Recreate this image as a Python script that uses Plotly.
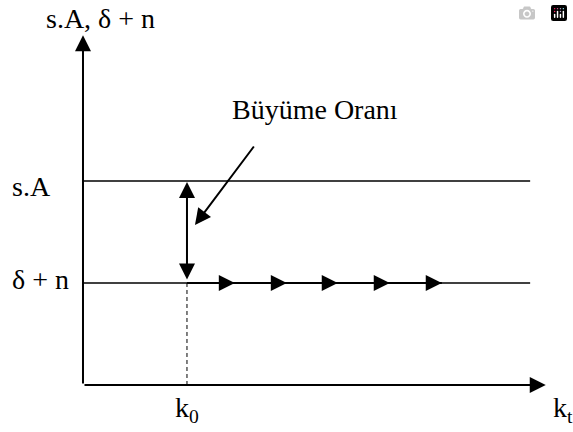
import plotly.graph_objects as go

# Conceptual data (model units)
sA_level = 2.0          # s.A
dn_level = 1.0          # delta + n
k0 = 1.0
line_end = 4.3
x_axis_end = 4.45
y_axis_end = 3.43
flow_arrow_tips = [1.46, 1.96, 2.45, 2.95, 3.45]
pointer_tail = (1.654, 2.353)
pointer_tip = (1.077, 1.569)

axis_labels = {"y": "s.A, δ + n", "x": "k<sub>t</sub>", "k0": "k<sub>0</sub>"}
level_labels = ["s.A", "δ + n"]
pointer_label = "Büyüme Oranı"

FONT = dict(family="Liberation Serif", size=28, color="black")

fig = go.Figure()

fig.add_trace(go.Scatter(x=[0, line_end], y=[sA_level, sA_level], mode="lines",
                         line=dict(color="black", width=1.5), hoverinfo="skip"))
fig.add_trace(go.Scatter(x=[0, line_end], y=[dn_level, dn_level], mode="lines",
                         line=dict(color="black", width=1.5), hoverinfo="skip"))
fig.add_trace(go.Scatter(x=[k0, flow_arrow_tips[-1]], y=[dn_level, dn_level], mode="lines",
                         line=dict(color="black", width=2.2), hoverinfo="skip"))
fig.add_trace(go.Scatter(x=[k0, k0], y=[0, dn_level], mode="lines",
                         line=dict(color="black", width=1, dash="4px,3px"), hoverinfo="skip"))

ann = []
def arrow(x, y, ax, ay, side="end", size=1.6, width=2):
    ann.append(dict(x=x, y=y, ax=ax, ay=ay, xref="x", yref="y", axref="x", ayref="y",
                    showarrow=True, arrowhead=2, arrowside=side, arrowsize=size,
                    arrowwidth=width, arrowcolor="black", text="", standoff=0, startstandoff=0))

arrow(0, y_axis_end, 0, 0)
arrow(x_axis_end, 0, 0, 0)
arrow(k0, sA_level - 0.01, k0, dn_level + 0.02, side="end+start")
arrow(pointer_tip[0], pointer_tip[1], pointer_tail[0], pointer_tail[1])
for t in flow_arrow_tips:
    arrow(t, dn_level, t - 0.12, dn_level)

def label(x, y, text, xanchor="center"):
    ann.append(dict(x=x, y=y, xref="x", yref="y", text=text, showarrow=False,
                    xanchor=xanchor, yanchor="middle", font=FONT))

label(0.173, 3.59, axis_labels["y"])
label(-0.7, 1.95, level_labels[0], "left")
label(-0.7, 1.03, level_labels[1], "left")
label(k0, -0.24, axis_labels["k0"])
label(4.50, -0.24, axis_labels["x"], "left")
label(2.23, 2.7, pointer_label)

# full-window figure; the page body margin is removed so the figure sits at (0,0)
fig.update_layout(
    width=573, height=432, margin=dict(l=0, r=0, t=0, b=0),
    plot_bgcolor="white", paper_bgcolor="white", showlegend=False,
    xaxis=dict(range=[-0.798, 4.712], visible=False, fixedrange=True),
    yaxis=dict(range=[-0.461, 3.775], visible=False, fixedrange=True),
    annotations=ann,
)

fig.write_html("out.html",
               post_script="document.body.style.margin='0';document.body.style.overflow='hidden';")
